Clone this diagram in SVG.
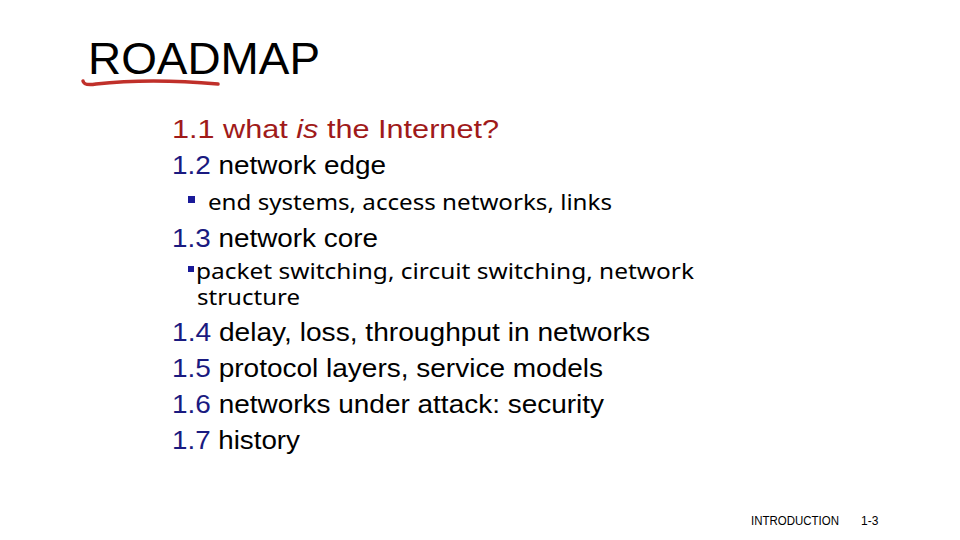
<svg xmlns="http://www.w3.org/2000/svg" width="960" height="540" viewBox="0 0 960 540">
<style>
.t{font-family:"Liberation Sans",Arial,sans-serif;font-size:26px;fill:#000}
.n{fill:#1a1a80}
.s{font-family:"Noto Sans","Open Sans",sans-serif;font-size:22px;fill:#000}
.b{fill:#1a1a99}
</style>
<rect width="960" height="540" fill="#fff"/>
<text x="88" y="74" font-family="Liberation Sans,Arial,sans-serif" font-size="45" fill="#000" textLength="232" lengthAdjust="spacingAndGlyphs">ROADMAP</text>
<path d="M83 81 Q84 86 96 84 Q150 78 218 84" fill="none" stroke="#c0302a" stroke-width="3.5" stroke-linecap="round"/>
<text class="t" x="172" y="138" style="fill:#a01a1a" textLength="327" lengthAdjust="spacingAndGlyphs">1.1 what <tspan font-style="italic">is</tspan> the Internet?</text>
<text class="t" x="172" y="174" textLength="214" lengthAdjust="spacingAndGlyphs"><tspan class="n">1.2</tspan> network edge</text>
<rect x="188" y="196" width="7" height="7" class="b"/>
<text class="s" x="208" y="210" textLength="404" lengthAdjust="spacingAndGlyphs">end systems, access networks, links</text>
<text class="t" x="172" y="247" textLength="206" lengthAdjust="spacingAndGlyphs"><tspan class="n">1.3</tspan> network core</text>
<rect x="188" y="266" width="6" height="6" class="b"/>
<text class="s" x="196" y="279" textLength="498" lengthAdjust="spacingAndGlyphs">packet switching, circuit switching, network</text>
<text class="s" x="197" y="305" textLength="103" lengthAdjust="spacingAndGlyphs">structure</text>
<text class="t" x="172" y="341" textLength="478" lengthAdjust="spacingAndGlyphs"><tspan class="n">1.4</tspan> delay, loss, throughput in networks</text>
<text class="t" x="172" y="377" textLength="431" lengthAdjust="spacingAndGlyphs"><tspan class="n">1.5</tspan> protocol layers, service models</text>
<text class="t" x="172" y="413" textLength="432" lengthAdjust="spacingAndGlyphs"><tspan class="n">1.6</tspan> networks under attack: security</text>
<text class="t" x="172" y="449" textLength="128" lengthAdjust="spacingAndGlyphs"><tspan class="n">1.7</tspan> history</text>
<text x="751" y="525" font-family="Liberation Sans,Arial,sans-serif" font-size="12" fill="#000" textLength="88" lengthAdjust="spacingAndGlyphs">INTRODUCTION</text>
<text x="861" y="525" font-family="Liberation Sans,Arial,sans-serif" font-size="12" fill="#000">1-3</text>
</svg>
